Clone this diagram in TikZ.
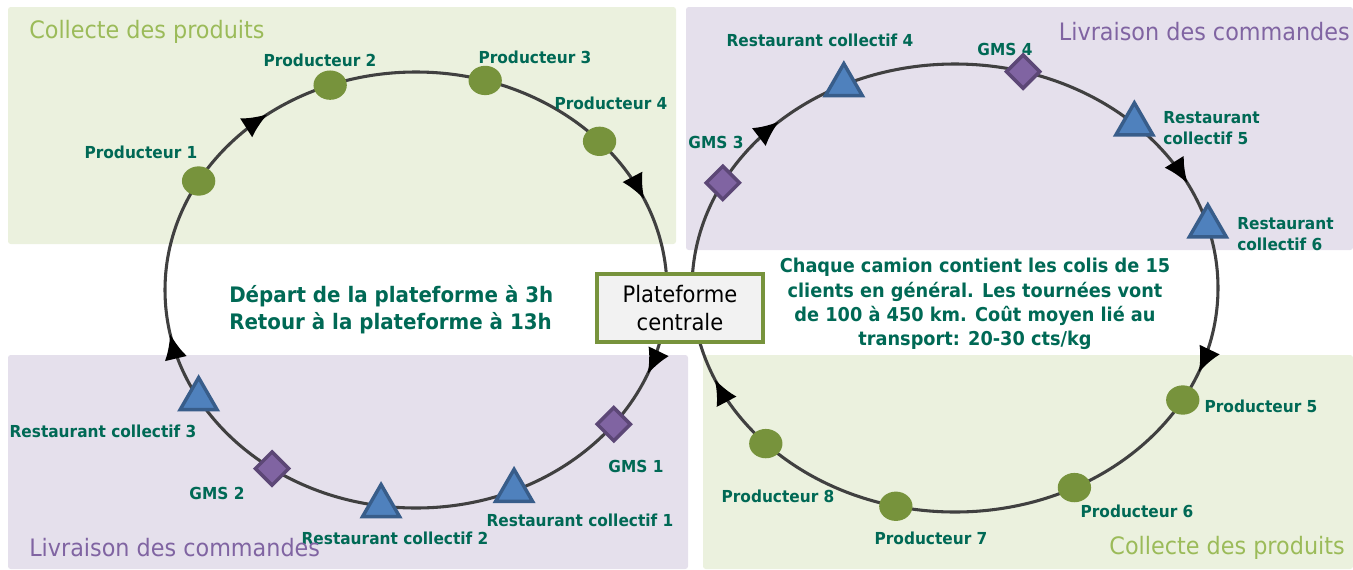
\documentclass[tikz,border=0pt]{standalone}
\usepackage{fontspec}
\setmainfont{DejaVu Sans}[FakeStretch=0.93]
\usetikzlibrary{shapes.geometric,decorations.markings,calc,arrows.meta}
\definecolor{zonegreen}{HTML}{EBF1DE}
\definecolor{zonepurple}{HTML}{E5E0EC}
\definecolor{headgreen}{HTML}{9BBB59}
\definecolor{headpurple}{HTML}{8064A2}
\definecolor{prodgreen}{HTML}{77933C}
\definecolor{restofill}{HTML}{4F81BD}
\definecolor{restoedge}{HTML}{385D8A}
\definecolor{gmsfill}{HTML}{8064A2}
\definecolor{gmsedge}{HTML}{5C4776}
\definecolor{lbltxt}{RGB}{0,105,85}
\definecolor{tourline}{HTML}{404040}
\tikzset{
  prod/.style={ellipse,fill=prodgreen,minimum width=25pt,minimum height=22pt,inner sep=0pt},
  resto/.style={regular polygon,regular polygon sides=3,fill=restofill,draw=restoedge,line width=2.6pt,minimum size=32pt,inner sep=0pt},
  gms/.style={diamond,fill=gmsfill,draw=gmsedge,line width=2.6pt,minimum size=26pt,inner sep=0pt},
  lbl/.style={text=lbltxt,font=\fontsize{12.4}{16}\selectfont\bfseries,align=left,inner sep=0pt},
  head/.style={font=\fontsize{18}{20}\selectfont,inner sep=0pt},
  info/.style={text=lbltxt,font=\bfseries,inner sep=0pt},
  tour/.style={draw=tourline,line width=2.3pt},
  tip/.style={postaction={decorate,decoration={markings,mark=at position #1 with {\arrow{Latex[length=19pt,width=17pt,color=black]}}}}},
  hub/.style={draw=prodgreen,line width=3pt,fill=black!5,minimum width=124pt,minimum height=51pt,align=center,font=\fontsize{17}{21}\selectfont}
}
\begin{document}
\begin{tikzpicture}[x=0.75pt,y=-0.75pt]
\useasboundingbox (0,0) rectangle (1353,569);
\fill[zonegreen,rounded corners=2pt] (8,7) rectangle (676,244);
\fill[zonepurple,rounded corners=2pt] (686,7) rectangle (1353,250);
\fill[zonepurple,rounded corners=2pt] (8,355) rectangle (688,569);
\fill[zonegreen,rounded corners=2pt] (703,355) rectangle (1353,569);

\coordinate (L) at (416,290);
\coordinate (R) at (955,288);
\draw[tour,tip=0.059,tip=0.47,tip=0.644,tip=0.936] (L) ellipse [x radius=251,y radius=218];
\draw[tour,tip=0.057,tip=0.438,tip=0.627,tip=0.928] (R) ellipse [x radius=263,y radius=224];

\node[prod] (p1) at ($(L)+(210:251 and 218)$) {};
\node[prod] (p2) at ($(L)+(250:251 and 218)$) {};
\node[prod] (p3) at ($(L)+(286:251 and 218)$) {};
\node[prod] (p4) at ($(L)+(317:251 and 218)$) {};
\node[gms] (g1) at ($(L)+(38:251 and 218)$) {};
\node[resto] (r1) at ($(L)+(67:251 and 218)$) {};
\node[resto] (r2) at ($(L)+(98:251 and 218)$) {};
\node[gms] (g2) at ($(L)+(125:251 and 218)$) {};
\node[resto] (r3) at ($(L)+(150:251 and 218)$) {};

\node[gms] (g3) at ($(R)+(208:263 and 224)$) {};
\node[resto] (r4) at ($(R)+(245:263 and 224)$) {};
\node[gms] (g4) at ($(R)+(285:263 and 224)$) {};
\node[resto] (r5) at ($(R)+(313:263 and 224)$) {};
\node[resto] (r6) at ($(R)+(344:263 and 224)$) {};
\node[prod] (p5) at ($(R)+(30:263 and 224)$) {};
\node[prod] (p6) at ($(R)+(63:263 and 224)$) {};
\node[prod] (p7) at ($(R)+(103:263 and 224)$) {};
\node[prod] (p8) at ($(R)+(136:263 and 224)$) {};

\node[hub] (hub) at (680,308) {Plateforme\\centrale};

\node[lbl] (tp1) at (141,152) {Producteur 1};
\node[lbl] (tp2) at (320,60) {Producteur 2};
\node[lbl] (tp3) at (535,57) {Producteur 3};
\node[lbl] (tp4) at (611,103) {Producteur 4};
\node[lbl] (tr3) at (103,431) {Restaurant collectif 3};
\node[lbl] (tg2) at (217,493) {GMS 2};
\node[lbl] (tr2) at (395,538) {Restaurant collectif 2};
\node[lbl] (tr1) at (580,520) {Restaurant collectif 1};
\node[lbl] (tg1) at (636,466) {GMS 1};
\node[lbl] (tg3) at (716,142) {GMS 3};
\node[lbl] (tr4) at (820,40) {Restaurant collectif 4};
\node[lbl] (tg4) at (1005,49) {GMS 4};
\node[lbl,anchor=west] (tr5) at (1163,128) {Restaurant\\collectif 5};
\node[lbl,anchor=west] (tr6) at (1237,234) {Restaurant\\collectif 6};
\node[lbl] (tp5) at (1261,406) {Producteur 5};
\node[lbl] (tp6) at (1137,511) {Producteur 6};
\node[lbl] (tp7) at (931,538) {Producteur 7};
\node[lbl] (tp8) at (778,496) {Producteur 8};

\node[head,text=headgreen,anchor=west] (h1) at (29,32) {Collecte des produits};
\node[head,text=headpurple,anchor=east] (h2) at (1350,32) {Livraison des commandes};
\node[head,text=headpurple,anchor=west] (h3) at (29,548) {Livraison des commandes};
\node[head,text=headgreen,anchor=east] (h4) at (1345,548) {Collecte des produits};

\node[info,anchor=west,align=left,font=\fontsize{16}{20}\selectfont\bfseries] (dep) at (229,310) {Départ de la plateforme à 3h\\Retour à la plateforme à 13h};
\node[info,align=center,font=\fontsize{14.3}{18.2}\selectfont\bfseries] (cam) at (975,304) {Chaque camion contient les colis de 15\\clients en général. Les tournées vont\\de 100 à 450 km. Coût moyen lié au\\transport: 20-30 cts/kg};
\end{tikzpicture}
\end{document}
